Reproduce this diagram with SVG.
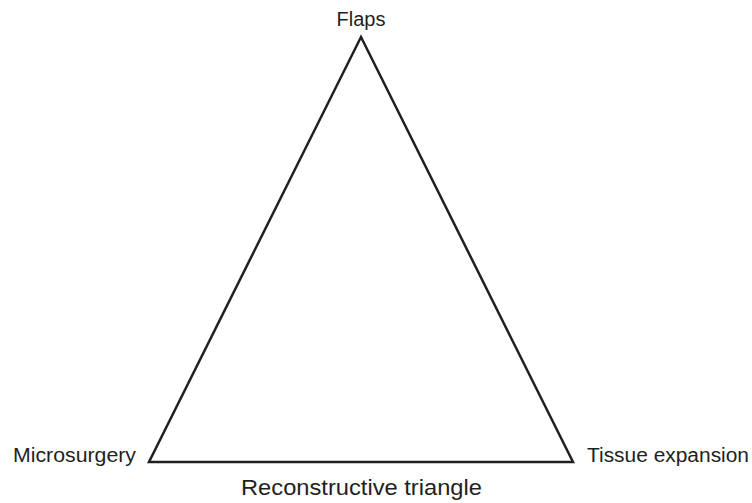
<svg xmlns="http://www.w3.org/2000/svg" width="752" height="503" viewBox="0 0 752 503">
<style>
text{font-family:"Liberation Sans",Arial,sans-serif;fill:#231f20;font-size:20px}
.edge{fill:none;stroke:#231f20;stroke-width:2.5;stroke-linejoin:miter}
</style>
<rect width="752" height="503" fill="#fff"/>
<g id="connectors">
<polygon class="edge" points="361,37 149,462 573,462"/>
</g>
<g id="flaps"><text x="361" y="26" text-anchor="middle">Flaps</text></g>
<g id="microsurgery"><text x="13" y="462" textLength="123" lengthAdjust="spacingAndGlyphs">Microsurgery</text></g>
<g id="tissue-expansion"><text x="587" y="462" textLength="162" lengthAdjust="spacingAndGlyphs">Tissue expansion</text></g>
<g id="title"><text x="241" y="495" style="font-size:22px" textLength="241" lengthAdjust="spacingAndGlyphs">Reconstructive triangle</text></g>
</svg>
